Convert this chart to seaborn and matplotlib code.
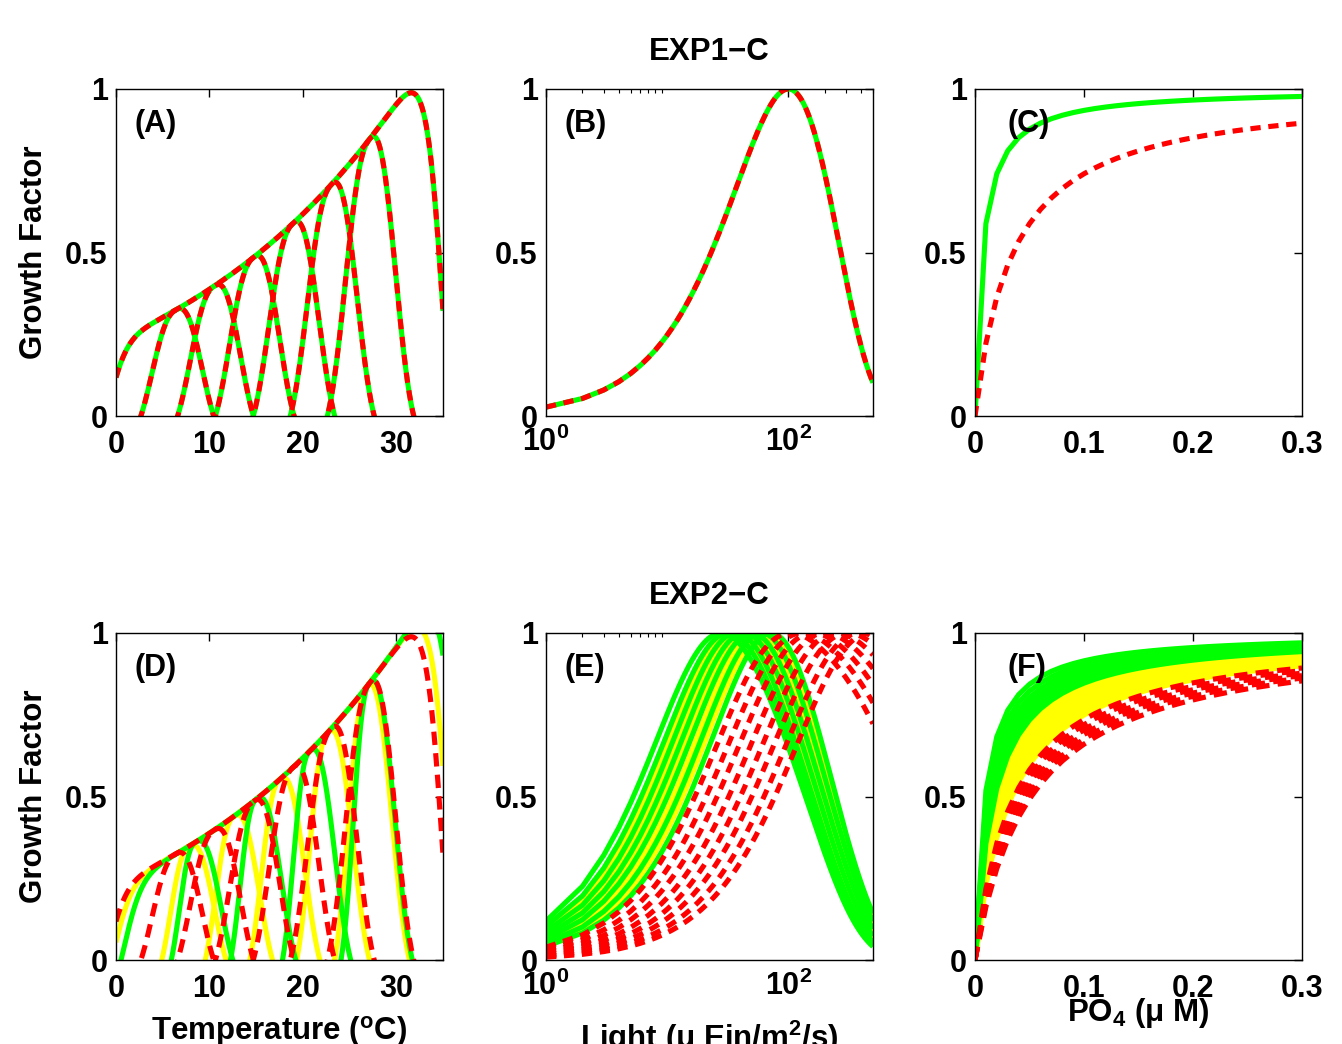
import numpy as np
import pandas as pd
import matplotlib
matplotlib.use("Agg")
import matplotlib.pyplot as plt
import seaborn as sns
from matplotlib.ticker import FixedLocator, FixedFormatter, NullFormatter

# ---------------------------------------------------------------- data
# temperature response: envelope parameters
temp_grid = np.arange(0.0, 35.001, 0.05)
env_scale = 0.324
env_rate = 0.0392
env_offset = 0.092
broad_width = 17.87
broad_power = 16.7
dome_power = 2.5

# EXP1 (panel A, red dashed in panel D)
exp1_broad_center = [17.0]
exp1_dome_topt = [6.4, 10.5, 14.7, 18.9, 23.0, 27.1]
exp1_dome_wl = 3.3
exp1_dome_wr = 3.3

# EXP2 extra sets (panel D)
exp2_green_broad_center = [18.67]
exp2_green_dome_topt = [8.5, 15.0, 20.7, 27.1]
exp2_green_dome_wl = 2.2
exp2_green_dome_wr = 3.2
exp2_yellow_broad_center = [17.63]
exp2_yellow_dome_topt = [7.8, 12.6, 17.5, 22.65, 26.8]
exp2_yellow_dome_wl = 2.5
exp2_yellow_dome_wr = 3.2

# light response (saturation / inhibition coefficients)
light_grid = np.arange(1.0, 501.0, 1.0)
exp1_light_ksat = [0.00405]
exp1_light_kinhib = [0.00811]
exp2_green_ksat = [0.0967, 0.0802, 0.0648, 0.0536, 0.0439, 0.0336, 0.0249]
exp2_green_kinhib = [0.00691, 0.00668, 0.00648, 0.00595, 0.00549, 0.00517, 0.00498]
exp2_yellow_ksat = [0.0731, 0.0588, 0.0479, 0.0378, 0.0299]
exp2_yellow_kinhib = [0.00664, 0.00619, 0.00564, 0.0054, 0.00499]
exp2_red_ksat = [0.0354, 0.0286, 0.0232, 0.0186, 0.0149, 0.0120, 0.00952, 0.00774]
exp2_red_kinhib = [0.000885, 0.000715, 0.00058, 0.000465, 0.000373, 0.0003, 0.000238, 0.000194]

# nutrient response (half-saturation constants, uM)
po4_grid = np.arange(0.0, 0.3001, 0.01)
exp1_green_k = [0.007]
exp1_red_k = [0.035]
exp2_green_k = [0.0093, 0.0108, 0.0123, 0.0138, 0.0153, 0.0168, 0.0181]
exp2_yellow_k = [0.0195, 0.0215, 0.0235, 0.0255, 0.0275, 0.0295, 0.0315, 0.0335]
exp2_red_k = [0.036, 0.039, 0.042, 0.045, 0.048, 0.0515]

temp_ticks = [0, 10, 20, 30]
po4_ticks = [0, 0.1, 0.2, 0.3]
po4_ticklabels = ["0", "0.1", "0.2", "0.3"]
y_ticks = [0, 0.5, 1]
y_ticklabels = ["0", "0.5", "1"]
light_major = [1, 100]
light_major_labels = [r"$\mathbf{10^{0}}$", r"$\mathbf{10^{2}}$"]
light_minor = [2, 3, 4, 5, 6, 7, 8, 9, 200, 300, 400, 500]

# ---------------------------------------------------------------- curves
def temp_curve(topt, wl, wr, power):
    d = temp_grid - topt
    w = np.where(d < 0, wl, wr)
    g = np.exp(-np.abs(d / w) ** power)
    return env_scale * np.exp(env_rate * temp_grid) * g - env_offset


def temp_set(broad, domes, wl, wr):
    out = [temp_curve(c, broad_width, broad_width, broad_power) for c in broad]
    out += [temp_curve(t, wl, wr, dome_power) for t in domes]
    return out


def light_set(ksat, kinhib):
    out = []
    fine = np.arange(1.0, 5000.0, 0.5)
    for a, b in zip(ksat, kinhib):
        f = (1 - np.exp(-a * light_grid)) * np.exp(-b * light_grid)
        fm = ((1 - np.exp(-a * fine)) * np.exp(-b * fine)).max()
        out.append(f / fm)
    return out


def po4_set(ks):
    return [po4_grid / (po4_grid + k) for k in ks]


GREEN = "#00ff00"
RED = "#ff0000"
YELLOW = "#ffff00"
LW = 3.7


def draw(ax, x, curves, color, dashes=None):
    frames = [pd.DataFrame({"x": x, "y": y, "unit": i}) for i, y in enumerate(curves)]
    df = pd.concat(frames, ignore_index=True)
    n0 = len(ax.lines)
    sns.lineplot(data=df, x="x", y="y", units="unit", estimator=None, ax=ax,
                 color=color, linewidth=LW, sort=False, legend=False)
    for ln in ax.lines[n0:]:
        ln.set_solid_capstyle("butt")
        if dashes is not None:
            ln.set_dashes(dashes)
            ln.set_dash_capstyle("butt")


DASH = [2.0, 1.5]
DASH_LONG = [2.6, 1.6]

# ---------------------------------------------------------------- style
sns.set_style("white")
plt.rcParams["font.family"] = ["Liberation Sans", "DejaVu Sans"]
plt.rcParams["font.weight"] = "bold"
plt.rcParams["text.color"] = "black"
plt.rcParams["axes.labelcolor"] = "black"
plt.rcParams["xtick.color"] = "black"
plt.rcParams["ytick.color"] = "black"
plt.rcParams["mathtext.fontset"] = "custom"
plt.rcParams["mathtext.bf"] = "Liberation Sans:bold"
plt.rcParams["mathtext.rm"] = "Liberation Sans:bold"
plt.rcParams["mathtext.it"] = "Liberation Sans:bold"
plt.rcParams["axes.edgecolor"] = "black"
plt.rcParams["axes.linewidth"] = 1.0

FS = 22.5
TFS = 22
W, H = 1342, 1044
fig = plt.figure(figsize=(W / 100, H / 100), dpi=100)


def add_axes(left_px, top_px):
    return fig.add_axes([left_px / W, 1 - (top_px + 327) / H, 327 / W, 327 / H])


lefts = [116, 546, 975]
tops = [89, 633]
axs = [[add_axes(l, t) for l in lefts] for t in tops]

# ---------------------------------------------------------------- panels
exp1_temp = temp_set(exp1_broad_center, exp1_dome_topt, exp1_dome_wl, exp1_dome_wr)
exp2_green_temp = temp_set(exp2_green_broad_center, exp2_green_dome_topt,
                           exp2_green_dome_wl, exp2_green_dome_wr)
exp2_yellow_temp = temp_set(exp2_yellow_broad_center, exp2_yellow_dome_topt,
                            exp2_yellow_dome_wl, exp2_yellow_dome_wr)

# (A)
ax = axs[0][0]
draw(ax, temp_grid, exp1_temp, GREEN)
draw(ax, temp_grid, exp1_temp, RED, DASH)
# (B)
ax = axs[0][1]
b_curve = light_set(exp1_light_ksat, exp1_light_kinhib)
draw(ax, light_grid, b_curve, GREEN)
draw(ax, light_grid, b_curve, RED, DASH)
# (C)
ax = axs[0][2]
draw(ax, po4_grid, po4_set(exp1_green_k), GREEN)
draw(ax, po4_grid, po4_set(exp1_red_k), RED, DASH)
# (D)
ax = axs[1][0]
draw(ax, temp_grid, exp2_yellow_temp, YELLOW)
draw(ax, temp_grid, exp2_green_temp, GREEN)
draw(ax, temp_grid, exp1_temp, RED, DASH_LONG)
# (E)
ax = axs[1][1]
draw(ax, light_grid, light_set(exp2_yellow_ksat, exp2_yellow_kinhib), YELLOW)
draw(ax, light_grid, light_set(exp2_green_ksat, exp2_green_kinhib), GREEN)
draw(ax, light_grid, light_set(exp2_red_ksat, exp2_red_kinhib), RED, DASH)
# (F)
ax = axs[1][2]
draw(ax, po4_grid, po4_set(exp2_yellow_k), YELLOW)
draw(ax, po4_grid, po4_set(exp2_green_k), GREEN)
draw(ax, po4_grid, po4_set(exp2_red_k), RED, DASH_LONG)

letters = [["(A)", "(B)", "(C)"], ["(D)", "(E)", "(F)"]]
letter_x = [0.058, 0.058, 0.10]
for r in range(2):
    for c in range(3):
        ax = axs[r][c]
        ax.set_ylim(0, 1)
        ax.set_xlabel("")
        ax.set_ylabel("")
        ax.yaxis.set_major_locator(FixedLocator(y_ticks))
        ax.yaxis.set_major_formatter(FixedFormatter(y_ticklabels))
        if c == 0:
            ax.set_xlim(0, 35)
            ax.xaxis.set_major_locator(FixedLocator(temp_ticks))
        elif c == 1:
            ax.set_xscale("log")
            ax.set_xlim(1, 500)
            ax.xaxis.set_major_locator(FixedLocator(light_major))
            ax.xaxis.set_major_formatter(FixedFormatter(light_major_labels))
            ax.xaxis.set_minor_locator(FixedLocator(light_minor))
            ax.xaxis.set_minor_formatter(NullFormatter())
        else:
            ax.set_xlim(0, 0.3)
            ax.xaxis.set_major_locator(FixedLocator(po4_ticks))
            ax.xaxis.set_major_formatter(FixedFormatter(po4_ticklabels))
        ax.tick_params(which="major", direction="in", length=6, width=1,
                       top=True, right=True, labelsize=TFS, colors="black")
        ax.tick_params(axis="x", which="major", pad=10 if c != 1 else 8)
        ax.tick_params(axis="y", which="major", pad=6)
        ax.tick_params(which="minor", direction="in", length=3, width=0.8,
                       top=True, right=True)
        for lab in ax.get_xticklabels() + ax.get_yticklabels():
            lab.set_fontweight("bold")
        for sp in ax.spines.values():
            sp.set_visible(True)
            sp.set_color("black")
            sp.set_linewidth(1.0)
        ax.text(letter_x[c], 0.893, letters[r][c], transform=ax.transAxes,
                fontsize=TFS, fontweight="bold", ha="left", va="center")

# titles and labels
fig.text(709 / W, 1 - 52 / H, "EXP1\u2212C", fontsize=FS, fontweight="bold",
         ha="center", va="center")
fig.text(709 / W, 1 - 596 / H, "EXP2\u2212C", fontsize=FS, fontweight="bold",
         ha="center", va="center")
for yc in (252, 796):
    fig.text(34 / W, 1 - yc / H, "Growth Factor", fontsize=FS, fontweight="bold",
             rotation=90, ha="center", va="center")
fig.text(279.5 / W, 1 - 1040 / H, r"Temperature ($^{\mathbf{o}}$C)", fontsize=FS,
         fontweight="bold", ha="center", va="baseline")
fig.text(709 / W, 1 - 1048 / H, r"Light (μ Ein/m$^{\mathbf{2}}$/s)", fontsize=FS,
         fontweight="bold", ha="center", va="baseline")
fig.text(1138 / W, 1 - 1021 / H, r"PO$_{\mathbf{4}}$ (μ M)", fontsize=FS,
         fontweight="bold", ha="center", va="baseline")

fig.savefig("out.png", dpi=100, facecolor="white")
